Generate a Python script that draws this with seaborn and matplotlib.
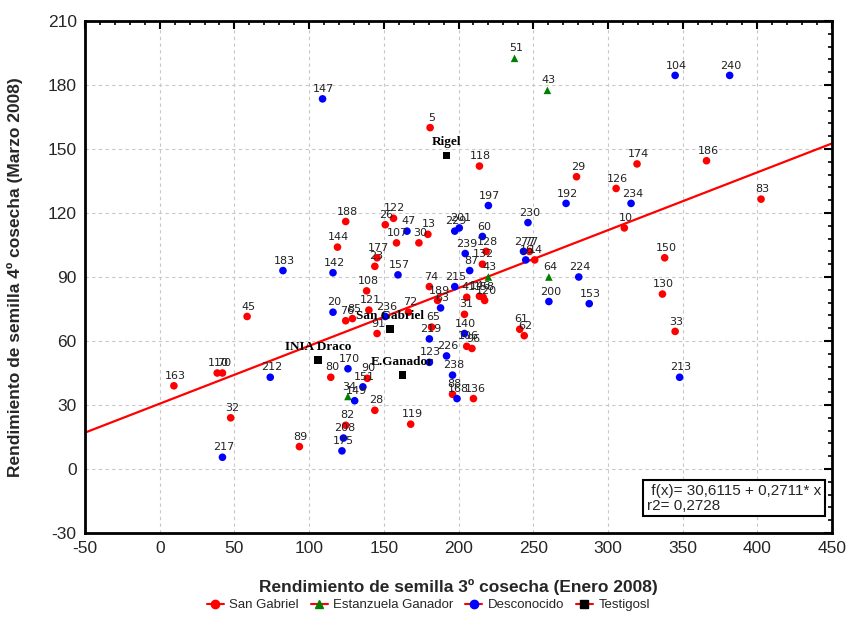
import matplotlib
matplotlib.use("Agg")
import matplotlib.pyplot as plt
from matplotlib.lines import Line2D
from matplotlib.ticker import MultipleLocator
import numpy as np
import pandas as pd
import seaborn as sns

# --- Rendimiento por línea: San Gabriel ---
sg_lab = ["5", "118", "29", "188", "122", "26", "107", "30", "13", "128", "77", "14",
          "132", "144", "177", "23", "108", "74", "189", "41", "146", "158", "120",
          "121", "76", "85", "72", "91", "65", "31", "106", "96", "61", "62", "174",
          "186", "126", "83", "10", "150", "130", "33", "45", "110", "70", "163", "32",
          "89", "80", "90", "28", "82", "119", "88", "136"]
sg_x = [181, 214, 279, 124.5, 156.5, 151, 158.5, 173.5, 179.5, 218.5, 247.5, 251,
        216, 119, 145.5, 144, 138.5, 180.5, 186, 205.5, 214, 216.5, 217.5,
        140, 124.5, 129, 166.5, 145.5, 182, 204, 205.5, 209, 241, 244, 319.5,
        366, 305.5, 402.5, 311, 338, 336.5, 345, 58.5, 38.5, 42, 9.5, 47.5,
        93.5, 114.5, 139, 144, 124.5, 168, 196, 210]
sg_y = [160, 142, 137, 116, 117.5, 114.5, 106, 106, 110, 102, 102, 98,
        96, 104, 99, 95, 83.5, 85.5, 79, 80.5, 81, 80.5, 79,
        74.5, 69.5, 70.5, 73.5, 63.5, 66.5, 72.5, 57.5, 56.5, 65.5, 62.5, 143,
        144.5, 131.5, 126.5, 113, 99, 82, 64.5, 71.5, 45, 45, 39, 24,
        10.5, 43, 42.5, 27.5, 20.5, 21, 35, 33]

# --- Estanzuela Ganador ---
eg_lab = ["51", "43", "43", "64", "34"]
eg_x = [237.5, 259.5, 220, 260.5, 126]
eg_y = [192.5, 177.5, 90, 90, 34]

# --- Desconocido ---
de_lab = ["147", "104", "240", "197", "192", "234", "230", "47", "229", "201", "60",
          "239", "277", "16", "87", "183", "142", "157", "215", "224", "200", "153",
          "63", "20", "236", "140", "219", "123", "226", "238", "168", "170", "151",
          "149", "208", "175", "212", "217", "213"]
de_x = [109, 345, 381.5, 220, 272, 315.5, 246.5, 165.5, 197.5, 200.5, 216,
        204.5, 243.5, 245, 207.5, 82.5, 116, 159.5, 197.5, 280.5, 260.5, 287.5,
        188, 116, 151, 204, 180.5, 180.5, 192, 196, 199, 126, 136,
        130.5, 123, 122, 74, 42, 348]
de_y = [173.5, 184.5, 184.5, 123.5, 124.5, 124.5, 115.5, 111.5, 111.5, 113, 109,
        101, 102, 98, 93, 93, 92, 91, 85.5, 90, 78.5, 77.5,
        75.5, 73.5, 71.5, 63.5, 61, 50, 53, 44, 33, 47, 38.5,
        32, 14.5, 8.5, 43, 5.5, 43]

# --- Testigos ---
te_lab = ["Rigel", "San Gabriel", "INIA Draco", "E.Ganador"]
te_x = [192, 154, 106, 162.5]
te_y = [147, 65.5, 51, 44]

# Ajuste lineal
intercepto = 30.6115
pendiente = 0.2711
r2 = 0.2728

grupos = ["San Gabriel", "Estanzuela Ganador", "Desconocido", "Testigosl"]
colores = {"San Gabriel": "#ff0000", "Estanzuela Ganador": "#008000",
           "Desconocido": "#0000ff", "Testigosl": "#000000"}
marcas = {"San Gabriel": "o", "Estanzuela Ganador": "^",
          "Desconocido": "o", "Testigosl": "s"}

df = pd.concat([
    pd.DataFrame({"x": sg_x, "y": sg_y, "lab": sg_lab, "grupo": "San Gabriel"}),
    pd.DataFrame({"x": eg_x, "y": eg_y, "lab": eg_lab, "grupo": "Estanzuela Ganador"}),
    pd.DataFrame({"x": de_x, "y": de_y, "lab": de_lab, "grupo": "Desconocido"}),
    pd.DataFrame({"x": te_x, "y": te_y, "lab": te_lab, "grupo": "Testigosl"}),
], ignore_index=True)

sns.set_style("white")
plt.rcParams["font.family"] = ["Liberation Sans", "DejaVu Sans"]
plt.rcParams["axes.unicode_minus"] = False

fig = plt.figure(figsize=(8.48, 6.23), dpi=100)
ax = fig.add_axes([85 / 848, 1 - 533 / 623, 747 / 848, 512 / 623])

# recta de regresión
xr = np.array([-50, 450])
ax.plot(xr, intercepto + pendiente * xr, color="#ff0000", lw=1.6, zorder=2)

sns.scatterplot(data=df, x="x", y="y", hue="grupo", style="grupo",
                palette=colores, markers=marcas, hue_order=grupos,
                s=30, edgecolor="none", linewidth=0, legend=False, ax=ax, zorder=3)

for _, r in df.iterrows():
    if r["grupo"] == "Testigosl":
        ax.annotate(r["lab"], (r["x"], r["y"]), xytext=(0, 5), textcoords="offset points",
                    ha="center", va="bottom", fontsize=9.5, fontweight="bold",
                    family=["Liberation Serif", "DejaVu Serif"], color="black", zorder=4)
    else:
        ax.annotate(r["lab"], (r["x"], r["y"]), xytext=(1, 3.5), textcoords="offset points",
                    ha="center", va="bottom", fontsize=8, family=["DejaVu Sans"],
                    color="#222222", zorder=4)

ax.set_xlim(-50, 450)
ax.set_ylim(-30, 210)
ax.xaxis.set_major_locator(MultipleLocator(50))
ax.xaxis.set_minor_locator(MultipleLocator(10))
ax.yaxis.set_major_locator(MultipleLocator(30))
ax.yaxis.set_minor_locator(MultipleLocator(6))
ax.grid(True, which="major", ls=(0, (3, 3)), color="#c8c8c8", lw=0.8)
ax.set_axisbelow(True)
for s in ax.spines.values():
    s.set_linewidth(2)
    s.set_color("black")
ax.tick_params(which="both", direction="in", top=True, right=True, color="black")
ax.tick_params(which="major", length=6, width=1.5, labelsize=12.5, pad=6)
ax.tick_params(which="minor", length=3, width=1.2)

ax.set_xlabel("Rendimiento de semilla 3º cosecha (Enero 2008)", fontsize=12.5,
              fontweight="bold")
ax.set_ylabel("Rendimiento de semilla 4º cosecha (Marzo 2008)", fontsize=12.5,
              fontweight="bold")
ax.xaxis.set_label_coords(0.5, -0.09)
ax.yaxis.set_label_coords(-0.083, 0.5)

caja = f" f(x)= {intercepto:.4f} + {pendiente:.4f}* x\nr2= {r2:.4f}".replace(".", ",")
ax.text(0.985, 0.04, caja, transform=ax.transAxes, ha="right", va="bottom",
        multialignment="left", fontsize=11, linespacing=1.05,
        bbox=dict(boxstyle="square,pad=0.25", fc="white", ec="black", lw=1.5), zorder=5)

handles = [Line2D([0], [0], color="#ff0000", lw=1.5, marker=marcas[g],
                  markerfacecolor=colores[g], markeredgecolor=colores[g], markersize=6)
           for g in grupos]
fig.legend(handles, grupos, loc="center", bbox_to_anchor=(0.505, 1 - 605 / 623),
           ncol=4, frameon=False, handlelength=1.3, handletextpad=0.4,
           columnspacing=0.9, prop={"size": 9.5})

fig.savefig("out.png", dpi=100)
